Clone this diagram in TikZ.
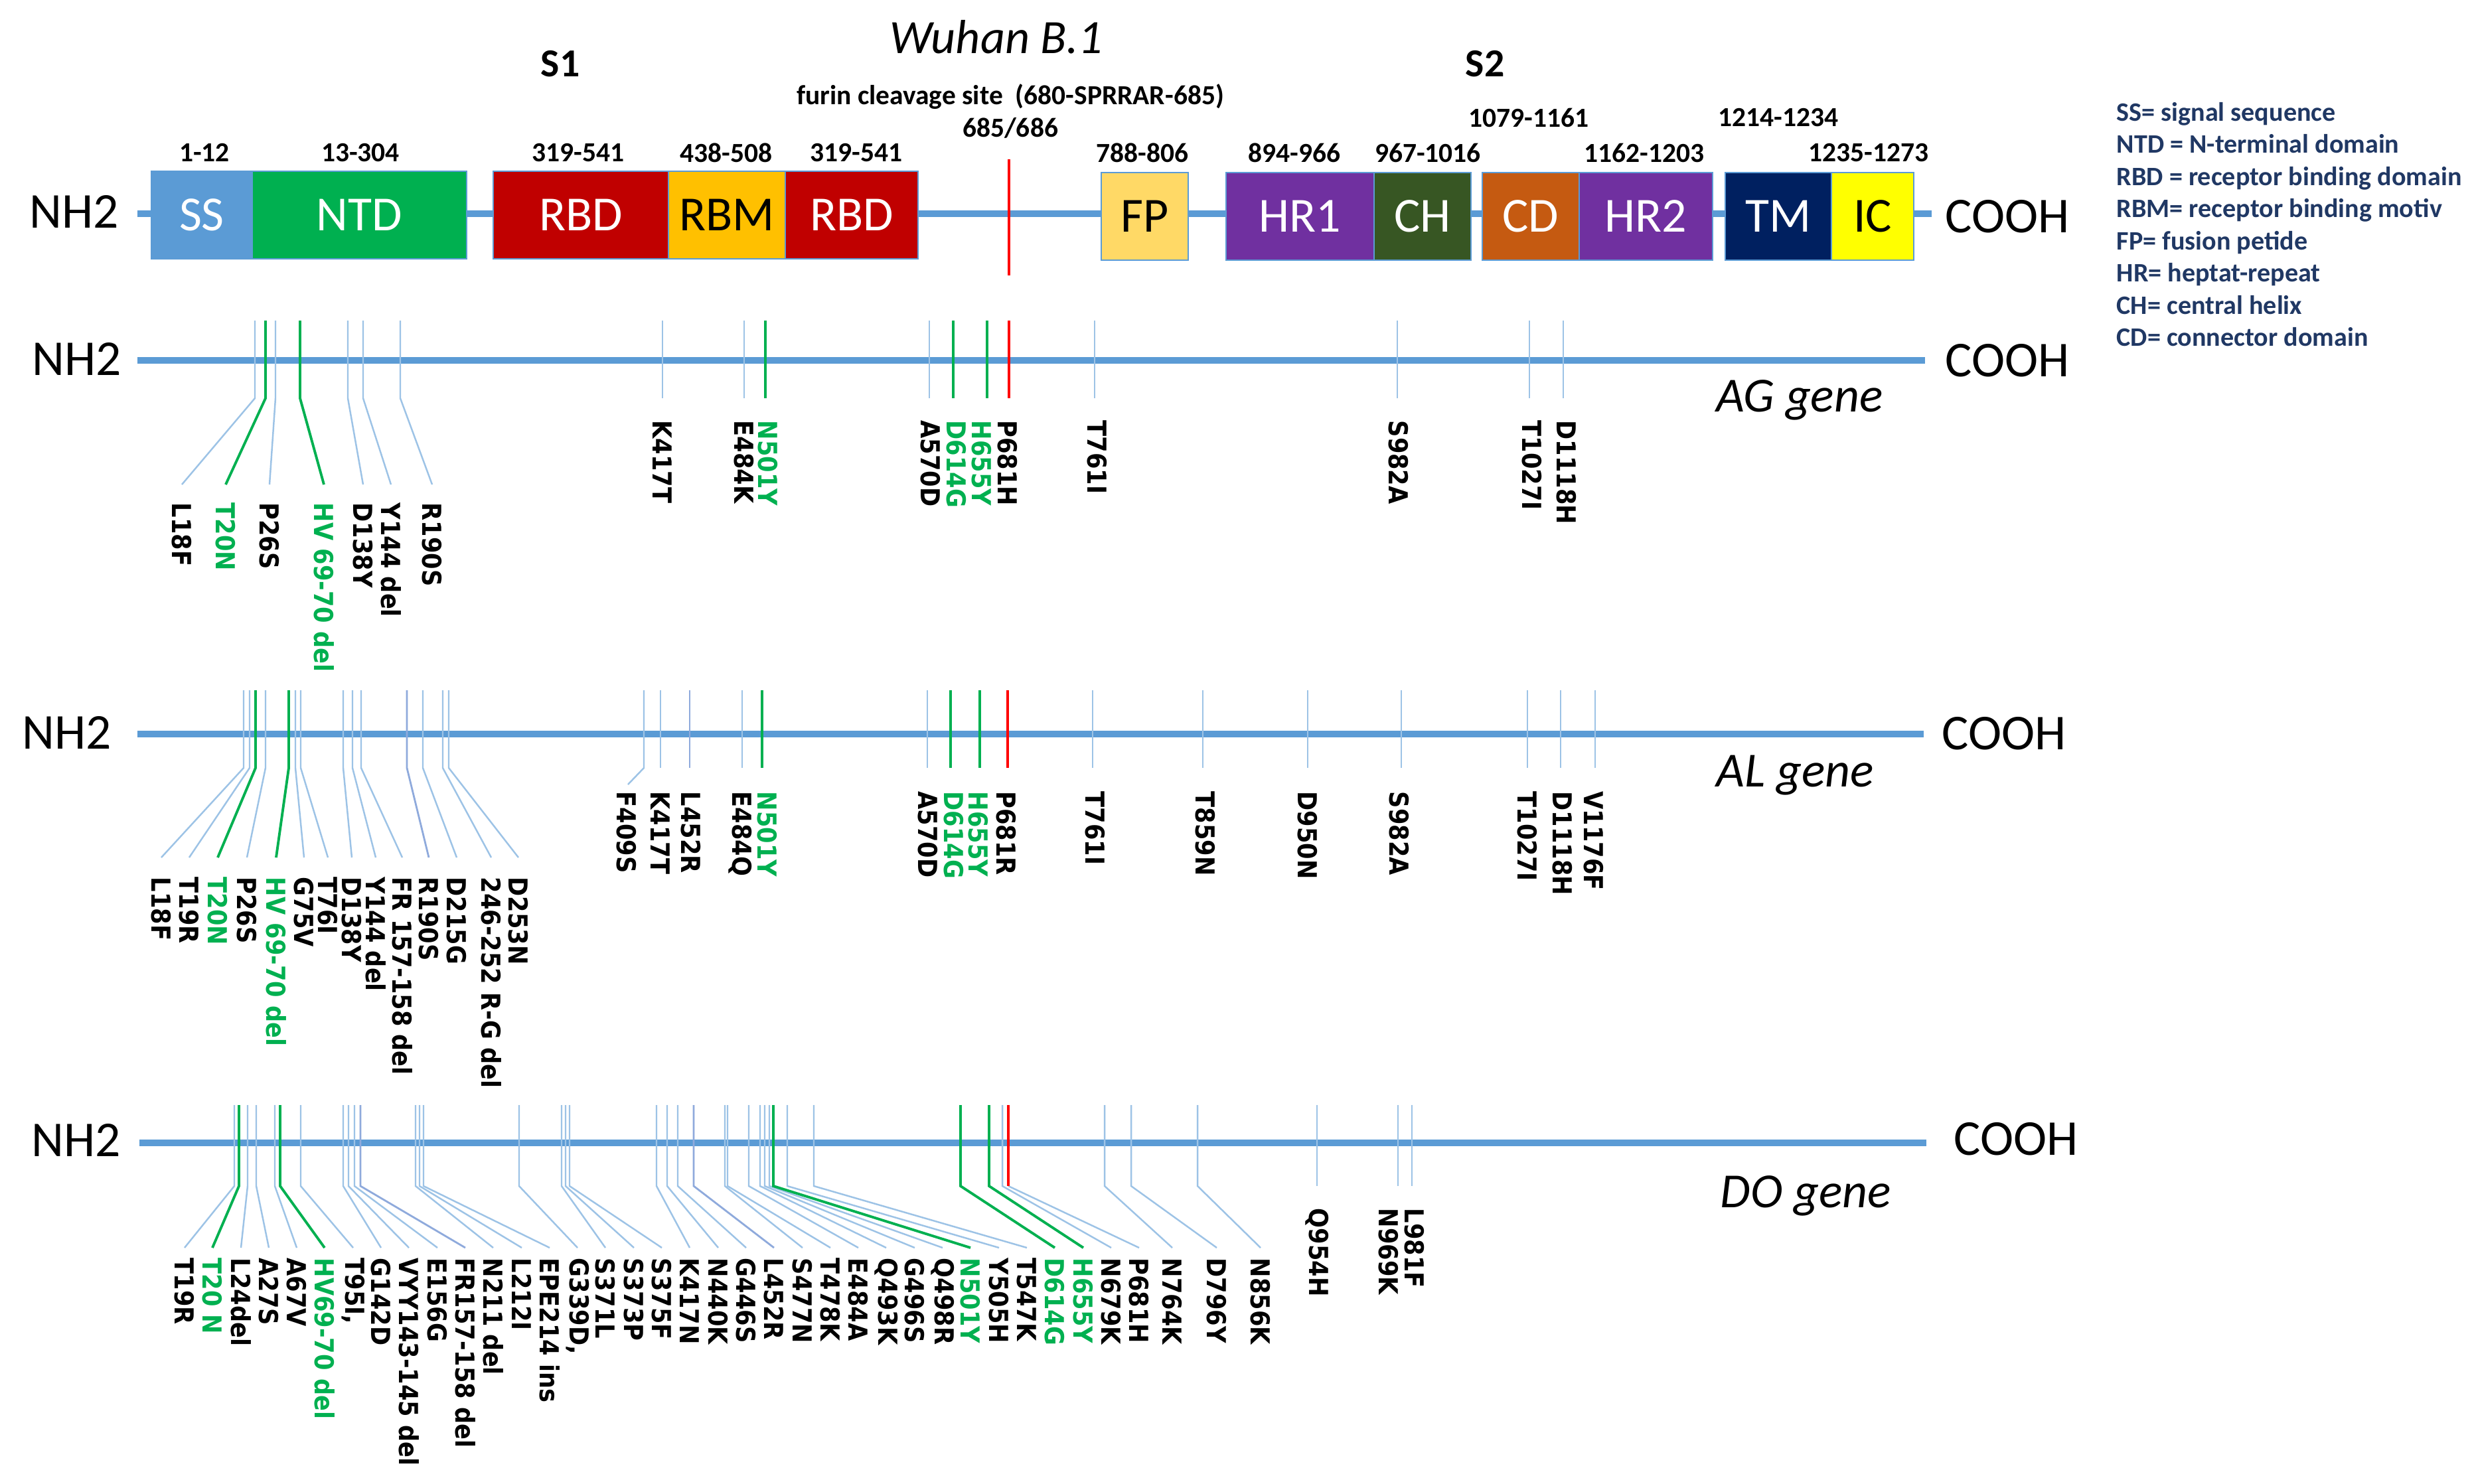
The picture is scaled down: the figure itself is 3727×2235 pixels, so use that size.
\documentclass[tikz,border=0pt]{standalone}
\usepackage{graphicx}
\usepackage{fontspec}
\setmainfont{Carlito}
\newfontfamily\mutfont{DejaVu Sans}
\definecolor{lblue}{HTML}{5B9BD5}
\definecolor{tblue}{HTML}{9DC3E6}
\definecolor{tdark}{HTML}{8FAADC}
\definecolor{mgreen}{HTML}{00B050}
\definecolor{rbdc}{HTML}{C00000}
\definecolor{rbmc}{HTML}{FFC000}
\definecolor{fpc}{HTML}{FFD966}
\definecolor{hrc}{HTML}{7030A0}
\definecolor{chc}{HTML}{375623}
\definecolor{cdc}{HTML}{C55A11}
\definecolor{tmc}{HTML}{002060}
\definecolor{icc}{HTML}{FFFF00}
\definecolor{legnavy}{HTML}{203864}
\newcommand\rowp[5]{\def\Ytt{#1}\def\Ytb{#2}\def\Yle{#3}\def\Ylt{#4}\def\Yst{#5}}
\newcommand\mtxt[1]{\scalebox{1}[1.12]{#1}}
% leader mutation: name, tick x, label x, colour key, text
\newcommand\ml[5]{%
  \coordinate (#1t) at (#2,\Ytt);
  \coordinate (#1b) at (#2,\Ytb);
  \coordinate (#1e) at (#3,\Yle);
  \node[mut,#4lab] (#1) at (#3,\Ylt) {\mtxt{#5}};
  \draw[#4tk] (#1t) -- (#1b) -- (#1e);}
% straight mutation
\newcommand\ms[5]{%
  \coordinate (#1t) at (#2,\Ytt);
  \coordinate (#1b) at (#2,\Ytb);
  \node[mut,#4lab] (#1) at (#3,\Yst) {\mtxt{#5}};
  \draw[#4tk] (#1t) -- (#1b);}
\begin{document}
\begin{tikzpicture}[x=0.01cm,y=-0.01cm,
 mainline/.style={draw=lblue,line width=3.1pt},
 dom/.style={draw=lblue,line width=0.5pt,minimum height=132*0.01cm,inner sep=0pt,font=\fontsize{21}{24}\selectfont,text=white},
 rng/.style={font=\bfseries\fontsize{11.8}{14}\selectfont,inner sep=0pt},
 term/.style={font=\fontsize{21.5}{24}\selectfont,inner sep=0pt},
 gene/.style={font=\itshape\fontsize{21}{24}\selectfont,anchor=west,inner sep=0pt},
 leg/.style={font=\bfseries\fontsize{11.4}{13.7}\selectfont,text=legnavy,anchor=base west,inner sep=0pt},
 mut/.style={font=\mutfont\bfseries\fontsize{10}{12}\selectfont,rotate=-90,anchor=west,inner sep=0pt},
 blab/.style={text=black}, glab/.style={text=mgreen}, rlab/.style={text=black}, dlab/.style={text=black},
 btk/.style={draw=tblue,line width=0.7pt}, dtk/.style={draw=tdark,line width=0.8pt},
 gtk/.style={draw=mgreen,line width=1.1pt}, rtk/.style={draw=red,line width=1.4pt}]
\useasboundingbox (0,0) rectangle (3727,2235);
\fill[white] (0,0) rectangle (3727,2235);

% ---------- titles ----------
\node[font=\itshape\fontsize{20.5}{24}\selectfont,inner sep=0pt] (wuhan) at (1501,56) {Wuhan B.1};
\node[font=\bfseries\fontsize{17}{20}\selectfont,inner sep=0pt] (s1) at (844,96) {S1};
\node[font=\bfseries\fontsize{17}{20}\selectfont,inner sep=0pt] (s2) at (2237,96) {S2};
\node[rng] (furin) at (1522,146) {furin cleavage site~~(680-SPRRAR-685)};
\node[rng] (cut) at (1522,193) {685/686};

% ---------- top domain bar ----------
\coordinate (topl) at (207,322);
\coordinate (topr) at (2910,322);
\draw[mainline] (topl) -- (topr);
\node[term] (nh2top) at (112,319) {NH2};
\node[term,anchor=west] (coohtop) at (2930,326) {COOH};

\node[dom,fill=lblue,minimum width=152*0.01cm] (ss) at (304,324) {SS};
\node[dom,fill=mgreen,minimum width=323*0.01cm] (ntd) at (541.5,324) {NTD};
\node[dom,fill=rbdc,minimum width=264*0.01cm] (rbd1) at (875,324) {RBD};
\node[dom,fill=rbmc,text=black,minimum width=176*0.01cm] (rbm) at (1095,324) {RBM};
\node[dom,fill=rbdc,minimum width=200*0.01cm] (rbd2) at (1283,324) {RBD};
\node[dom,fill=fpc,text=black,minimum width=131*0.01cm] (fp) at (1724.5,326) {FP};
\node[dom,fill=hrc,minimum width=223*0.01cm] (hr1) at (1958.5,326) {HR1};
\node[dom,fill=chc,minimum width=146*0.01cm] (ch) at (2143,326) {CH};
\node[dom,fill=cdc,minimum width=146*0.01cm] (cd) at (2306,326) {CD};
\node[dom,fill=hrc,minimum width=201*0.01cm] (hr2) at (2479.5,326) {HR2};
\node[dom,fill=tmc,minimum width=160*0.01cm] (tm) at (2679,326) {TM};
\node[dom,fill=icc,text=black,minimum width=124*0.01cm] (ic) at (2821,326) {IC};

\coordinate (furt) at (1520,240);
\coordinate (furb) at (1520,415);
\draw[draw=red,line width=1.3pt] (furt) -- (furb);

\node[rng] (r1) at (308,230) {1-12};
\node[rng] (r2) at (543,230) {13-304};
\node[rng] (r3) at (871,230) {319-541};
\node[rng] (r4) at (1094,230) {438-508};
\node[rng] (r5) at (1290,230) {319-541};
\node[rng] (r6) at (1721,230) {788-806};
\node[rng] (r7) at (1950,230) {894-966};
\node[rng] (r8) at (2151,230) {967-1016};
\node[rng] (r9) at (2303,177) {1079-1161};
\node[rng] (r10) at (2477,230) {1162-1203};
\node[rng] (r11) at (2679,177) {1214-1234};
\node[rng] (r12) at (2815,230) {1235-1273};

% ---------- legend ----------
\node[leg] (lg1) at (3188,182) {SS= signal sequence};
\node[leg] (lg2) at (3188,230) {NTD = N-terminal domain};
\node[leg] (lg3) at (3188,279) {RBD = receptor binding domain};
\node[leg] (lg4) at (3188,327) {RBM= receptor binding motiv};
\node[leg] (lg5) at (3188,376) {FP= fusion petide};
\node[leg] (lg6) at (3188,424) {HR= heptat-repeat};
\node[leg] (lg7) at (3188,473) {CH= central helix};
\node[leg] (lg8) at (3188,521) {CD= connector domain};

% ---------- AG gene ----------
\coordinate (agl) at (207,543);
\coordinate (agr) at (2900,543);
\draw[mainline] (agl) -- (agr);
\node[term] (nh2ag) at (116,541) {NH2};
\node[term,anchor=west] (coohag) at (2930,543) {COOH};
\node[gene] (aggene) at (2585,603) {AG gene};
\rowp{483}{600}{730}{757}{633}
\ml{ag1}{384}{274}{b}{L18F}
\ml{ag2}{400}{340}{g}{T20N}
\ml{ag3}{415}{406}{b}{P26S}
\ml{ag4}{452}{488}{g}{HV 69-70 del}
\ml{ag5}{524}{547}{b}{D138Y}
\ml{ag6}{547}{589}{b}{Y144 del}
\ml{ag7}{603}{651}{b}{R190S}
\ms{ag8}{998}{998}{b}{K417T}
\ms{ag9}{1121}{1121}{b}{E484K}
\ms{ag10}{1153}{1157}{g}{N501Y}
\ms{ag11}{1400}{1402}{b}{A570D}
\ms{ag12}{1436}{1441}{g}{D614G}
\ms{ag13}{1487}{1479}{g}{H655Y}
\ms{ag14}{1520}{1518}{r}{P681H}
\ms{ag15}{1649}{1653}{b}{T761I}
\ms{ag16}{2105}{2107}{b}{S982A}
\ms{ag17}{2304}{2308}{b}{T1027I}
\ms{ag18}{2355}{2360}{b}{D1118H}

% ---------- AL gene ----------
\coordinate (all) at (207,1106);
\coordinate (alr) at (2898,1106);
\draw[mainline] (all) -- (alr);
\node[term] (nh2al) at (101,1104) {NH2};
\node[term,anchor=west] (coohal) at (2925,1105) {COOH};
\node[gene] (algene) at (2585,1168) {AL gene};
\rowp{1040}{1157}{1292}{1321}{1192}
\ml{al1}{367}{243}{b}{L18F}
\ml{al2}{376}{285}{b}{T19R}
\ml{al3}{385}{328}{g}{T20N}
\ml{al4}{400}{372}{b}{P26S}
\ml{al5}{435}{416}{g}{HV 69-70 del}
\ml{al6}{445}{458}{b}{G75V}
\ml{al7}{453}{494}{b}{T76I}
\ml{al8}{517}{530}{b}{D138Y}
\ml{al9}{531}{566}{b}{Y144 del}
\ml{al10}{544}{606}{b}{FR 157-158 del}
\ml{al11}{613}{646}{d}{R190S}
\ml{al12}{637}{688}{b}{D215G}
\ml{al13}{667}{740}{b}{246-252 R-G del}
\ml{al14}{676}{781}{b}{D253N}
\coordinate (al15t) at (970,\Ytt);
\coordinate (al15b) at (970,\Ytb);
\coordinate (al15e) at (946,1182);
\node[mut,blab] (al15) at (944,1192) {\mtxt{F409S}};
\draw[btk] (al15t) -- (al15b) -- (al15e);
\ms{al16}{995}{995}{b}{K417T}
\ms{al17}{1039}{1041}{d}{L452R}
\ms{al18}{1118}{1115}{b}{E484Q}
\ms{al19}{1148}{1156}{g}{N501Y}
\ms{al20}{1397}{1398}{b}{A570D}
\ms{al21}{1432}{1437}{g}{D614G}
\ms{al22}{1476}{1474}{g}{H655Y}
\ms{al23}{1518}{1516}{r}{P681R}
\ms{al24}{1646}{1650}{b}{T761I}
\ms{al25}{1812}{1816}{b}{T859N}
\ms{al26}{1970}{1970}{b}{D950N}
\ms{al27}{2111}{2108}{b}{S982A}
\ms{al28}{2301}{2301}{b}{T1027I}
\ms{al29}{2351}{2354}{b}{D1118H}
\ms{al30}{2403}{2401}{b}{V1176F}

% ---------- DO gene ----------
\coordinate (dol) at (210,1722);
\coordinate (dor) at (2902,1722);
\draw[mainline] (dol) -- (dor);
\node[term] (nh2do) at (115,1718) {NH2};
\node[term,anchor=west] (coohdo) at (2943,1716) {COOH};
\node[gene] (dogene) at (2591,1802) {DO gene};
\rowp{1665}{1787}{1880}{1895}{1820}
\ml{do1}{353}{278}{b}{T19R}
\ml{do2}{360}{320}{g}{T20 N}
\ml{do3}{373}{363}{b}{L24del}
\ml{do4}{386}{405}{b}{A27S}
\ml{do5}{414}{447}{b}{A67V}
\ml{do6}{422}{489}{g}{HV69-70 del}
\ml{do7}{453}{532}{b}{T95I,}
\ml{do8}{517}{574}{b}{G142D}
\ml{do9}{525}{616}{b}{VYY143-145 del}
\ml{do10}{534}{659}{b}{E156G}
\ml{do11}{543}{701}{d}{FR157-158 del}
\ml{do12}{626}{743}{b}{N211 del}
\ml{do13}{632}{786}{b}{L212I}
\ml{do14}{638}{828}{b}{EPE214 ins}
\ml{do15}{782}{870}{b}{G339D,}
\ml{do16}{846}{912}{b}{S371L}
\ml{do17}{852}{955}{b}{S373P}
\ml{do18}{858}{997}{b}{S375F}
\ml{do19}{989}{1039}{b}{K417N}
\ml{do20}{1005}{1082}{b}{N440K}
\ml{do21}{1021}{1124}{b}{G446S}
\ml{do22}{1045}{1166}{d}{L452R}
\ml{do23}{1092}{1209}{b}{S477N}
\ml{do24}{1096}{1251}{b}{T478K}
\ml{do25}{1128}{1293}{b}{E484A}
\ml{do26}{1145}{1335}{b}{Q493K}
\ml{do27}{1152}{1378}{b}{G496S}
\ml{do28}{1159}{1420}{b}{Q498R}
\ml{do29}{1165}{1462}{g}{N501Y}
\ml{do30}{1186}{1505}{b}{Y505H}
\ml{do31}{1226}{1547}{b}{T547K}
\ml{do32}{1447}{1589}{g}{D614G}
\ml{do33}{1490}{1632}{g}{H655Y}
\ml{do34}{1510}{1674}{b}{N679K}
\coordinate (do35t) at (1519,\Ytt);
\coordinate (do35b) at (1519,\Ytb);
\coordinate (do35e) at (1716,\Yle);
\node[mut,blab] (do35) at (1716,\Ylt) {\mtxt{P681H}};
\draw[btk] (do35b) -- (do35e);
\draw[rtk] (do35t) -- (do35b);
\ml{do36}{1664}{1766}{b}{N764K}
\ml{do37}{1704}{1833}{b}{D796Y}
\ml{do38}{1804}{1899}{b}{N856K}
\ms{do39}{1984}{1984}{b}{Q954H}
\ms{do40}{2106}{2092}{b}{N969K}
\ms{do41}{2127}{2131}{b}{L981F}
\end{tikzpicture}
\end{document}
